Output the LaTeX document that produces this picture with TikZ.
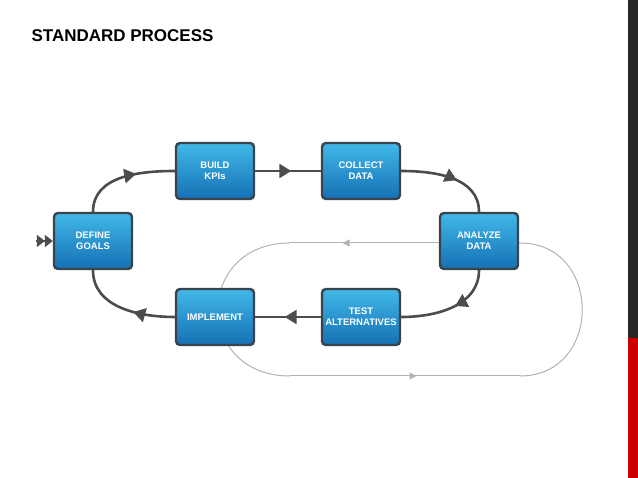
\documentclass[tikz,border=0pt]{standalone}
\usepackage{fontspec}
\setmainfont{Liberation Sans}
\usetikzlibrary{decorations.markings,arrows.meta}
\definecolor{boxtop}{HTML}{41B8E8}
\definecolor{boxbot}{HTML}{1570B4}
\definecolor{boxline}{HTML}{3A444C}
\begin{document}
\begin{tikzpicture}[x=1pt,y=-1pt,
  box/.style={draw=boxline,line width=2.4pt,rounded corners=4pt,minimum width=78pt,minimum height=56pt,
    top color=boxtop,bottom color=boxbot,text=white,font=\bfseries\fontsize{9.5}{11}\selectfont,align=center},
  flow/.style={draw=black!70,line width=2.6pt},
  mid/.style={postaction={decorate},decoration={markings,mark=at position #1 with {\arrow[black!70]{Triangle[length=12pt,width=14pt]}}}},
  loop/.style={draw=black!30,line width=1pt},
  lmid/.style={postaction={decorate},decoration={markings,mark=at position #1 with {\arrow[black!30]{Triangle[length=7pt,width=7pt]}}}}]
\useasboundingbox (0,0) rectangle (638,478);
\fill[black!85] (628,0) rectangle (638,338);
\fill[red!80!black] (628,338) rectangle (638,478);
\node[anchor=west,font=\bfseries\fontsize{17}{20}\selectfont] (title) at (28,36) {STANDARD PROCESS};
% gray loop
\coordinate (l1) at (440,243);
\coordinate (l2) at (290,243);
\coordinate (l3) at (290,376);
\coordinate (l4) at (520,376);
\coordinate (l5) at (520,243);
\draw[loop,lmid=0.65] (l1) -- (l2);
\draw[loop] (l2) .. controls (194,243) and (194,376) .. (l3);
\draw[loop,lmid=0.55] (l3) -- (l4);
\draw[loop] (l4) .. controls (603,376) and (603,243) .. (l5) -- (l1);
% nodes
\node[box] (def) at (93,241) {DEFINE\\GOALS};
\node[box] (kpi) at (215,171) {BUILD\\KPIs};
\node[box] (col) at (361,171) {COLLECT\\DATA};
\node[box] (ana) at (479,241) {ANALYZE\\DATA};
\node[box] (tst) at (361,317) {TEST\\ALTERNATIVES};
\node[box] (imp) at (215,317) {IMPLEMENT};
% connectors
\draw[flow,mid=0.62] (def.north) to[out=90,in=180] (kpi.west);
\draw[flow,mid=0.55] (kpi.east) -- (col.west);
\draw[flow,mid=0.58] (col.east) to[out=0,in=90] (ana.north);
\draw[flow,mid=0.45] (ana.south) to[out=-90,in=0] (tst.east);
\draw[flow,mid=0.55] (tst.west) -- (imp.east);
\draw[flow,mid=0.4] (imp.west) to[out=180,in=-90] (def.south);
\coordinate (in) at (36,241);
\draw[black!70,line width=2pt,-{Triangle[length=8pt,width=12pt]Triangle[length=8pt,width=12pt]}] (in) -- (def.west);
\end{tikzpicture}
\end{document}
